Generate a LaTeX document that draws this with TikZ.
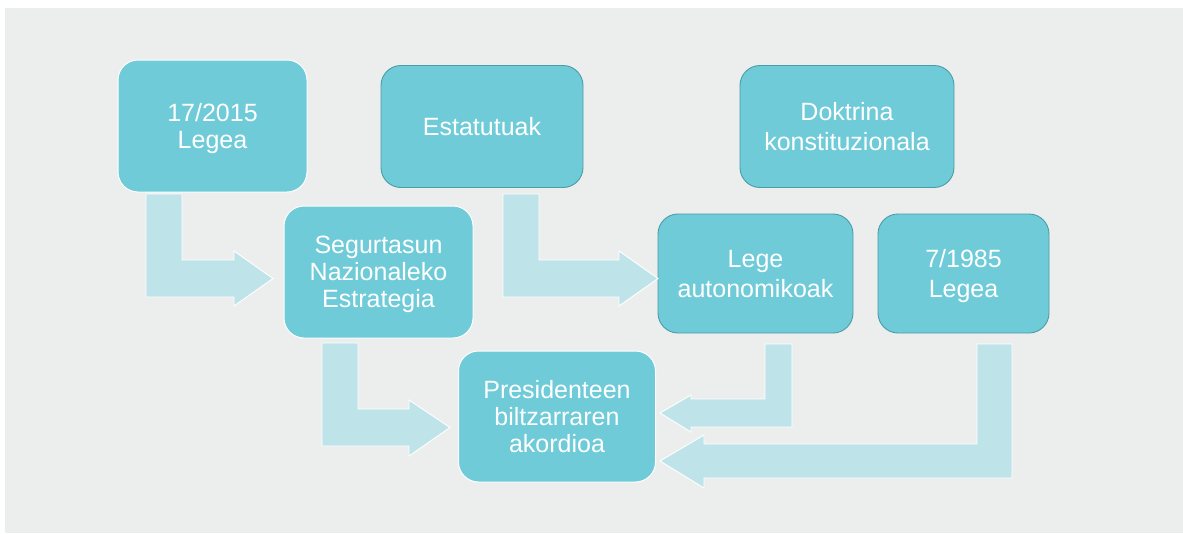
\documentclass[tikz,border=0pt]{standalone}
\usepackage{fontspec}
\setmainfont{Liberation Sans}
\definecolor{bgc}{HTML}{ECEDED}
\definecolor{boxc}{HTML}{6FCBD8}
\definecolor{arrc}{HTML}{BEE4EA}
\definecolor{edgec}{HTML}{4A9DA7}
\tikzset{
  box/.style={rounded corners=20pt, fill=boxc, inner sep=0pt, text=white, align=center,
    text depth=0pt, font=\fontsize{25}{27}\selectfont},
  lightedge/.style={draw=white, line width=1pt},
  darkedge/.style={draw=edgec, line width=0.9pt, font=\fontsize{25}{30}\selectfont},
  flowarrow/.style={fill=arrc, draw=white, line width=0.9pt, line join=miter},
}
\begin{document}
\begin{tikzpicture}[x=1pt,y=-1pt]
\useasboundingbox (0,0) rectangle (1183,533);
\fill[white] (0,0) rectangle (1183,533);
\fill[bgc] (5,8) rectangle (1183,533);

% boxes
\node[box, lightedge, minimum width=189pt, minimum height=132pt] (ley17) at (212.5,126) {17/2015\\Legea};
\node[box, darkedge, minimum width=202pt, minimum height=122pt] (estat) at (482,126.5) {Estatutuak};
\node[box, darkedge, minimum width=214pt, minimum height=122pt] (dokt) at (847,126.5) {Doktrina\\konstituzionala};
\node[box, lightedge, minimum width=189pt, minimum height=132pt] (segur) at (378.5,272) {Segurtasun\\Nazionaleko\\Estrategia};
\node[box, darkedge, minimum width=195pt, minimum height=119pt] (lege) at (755.5,273.5) {Lege\\autonomikoak};
\node[box, darkedge, minimum width=171pt, minimum height=119pt] (ley7) at (963.5,273.5) {7/1985\\Legea};
\node[box, lightedge, minimum width=197pt, minimum height=131pt] (presi) at (557,416.5) {Presidenteen\\biltzarraren\\akordioa};

% connectors (block elbow arrows)
% 17/2015 Legea -> Segurtasun
\draw[flowarrow] (146,194) -- (182,194) -- (182,260) -- (234,260) -- (234,251)
  -- (273,278.5) -- (234,306) -- (234,297) -- (146,297) -- cycle;
% Segurtasun -> Presidenteen
\draw[flowarrow] (322,343) -- (358,343) -- (358,409) -- (409,409) -- (409,400)
  -- (450,427.5) -- (409,456) -- (409,446) -- (322,446) -- cycle;
% Estatutuak -> Lege autonomikoak
\draw[flowarrow] (503,194) -- (539,194) -- (539,260) -- (619,260) -- (619,251)
  -- (658,278.5) -- (619,306) -- (619,297) -- (503,297) -- cycle;
% Lege autonomikoak -> Presidenteen
\draw[flowarrow] (765,344) -- (792,344) -- (792,427) -- (691,427) -- (691,432)
  -- (660,413) -- (691,395) -- (691,399) -- (765,399) -- cycle;
% 7/1985 Legea -> Presidenteen
\draw[flowarrow] (977,344) -- (1012,344) -- (1012,478) -- (704,478) -- (704,488)
  -- (660,461) -- (704,435) -- (704,444) -- (977,444) -- cycle;
\end{tikzpicture}
\end{document}
